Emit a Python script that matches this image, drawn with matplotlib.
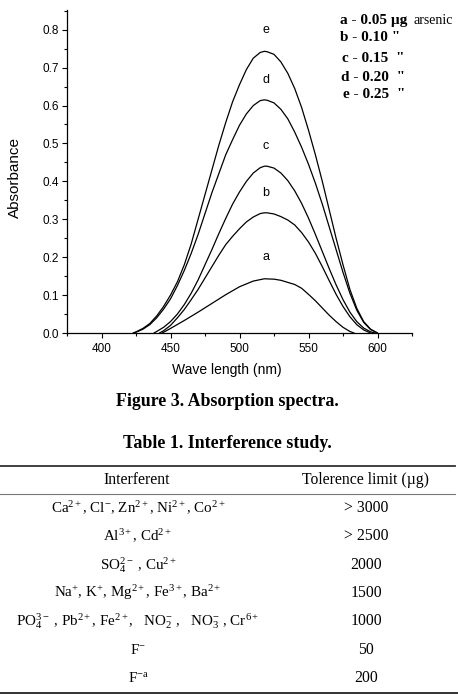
import matplotlib
matplotlib.use("Agg")
import matplotlib.pyplot as plt
from matplotlib.lines import Line2D
from matplotlib.ticker import MultipleLocator

plt.rcParams['mathtext.fontset'] = 'custom'
plt.rcParams['mathtext.rm'] = 'Liberation Serif'
plt.rcParams['mathtext.it'] = 'Liberation Serif:italic'
plt.rcParams['mathtext.bf'] = 'Liberation Serif:bold'

# ---------------- data ----------------
wl_a = [444, 450, 460, 470, 480, 490, 500, 510, 518, 525, 530, 540, 545, 550, 555, 560, 565, 570, 575, 580, 583]
abs_a = [0, 0.012, 0.033, 0.055, 0.078, 0.101, 0.122, 0.137, 0.143, 0.142, 0.139, 0.128, 0.118, 0.102, 0.085,
         0.066, 0.047, 0.030, 0.015, 0.004, 0]

wl_b = [442, 445, 450, 455, 460, 465, 470, 475, 480, 485, 490, 495, 500, 505, 510, 515, 518, 520, 525, 530,
        535, 540, 545, 550, 555, 560, 565, 570, 575, 580, 585, 590, 595]
abs_b = [0, 0.006, 0.02, 0.04, 0.062, 0.088, 0.115, 0.145, 0.175, 0.205, 0.233, 0.255, 0.275, 0.293, 0.306,
         0.315, 0.317, 0.317, 0.314, 0.307, 0.298, 0.285, 0.265, 0.24, 0.21, 0.175, 0.138, 0.102, 0.07, 0.043,
         0.022, 0.008, 0]

wl_c = [438, 440, 445, 450, 455, 460, 465, 470, 475, 480, 485, 490, 495, 500, 505, 510, 515, 518, 520, 525,
        530, 535, 540, 545, 550, 555, 560, 565, 570, 575, 580, 585, 590, 595, 598]
abs_c = [0, 0.004, 0.015, 0.03, 0.05, 0.075, 0.105, 0.14, 0.18, 0.22, 0.262, 0.302, 0.34, 0.372, 0.40, 0.422,
         0.436, 0.44, 0.44, 0.435, 0.422, 0.402, 0.375, 0.342, 0.303, 0.26, 0.215, 0.17, 0.127, 0.088, 0.055,
         0.03, 0.013, 0.003, 0]

wl_d = [423, 425, 430, 435, 440, 445, 450, 455, 460, 465, 470, 475, 480, 485, 490, 495, 500, 505, 510, 515,
        518, 520, 525, 530, 535, 540, 545, 550, 555, 560, 565, 570, 575, 580, 585, 590, 595, 600]
abs_d = [0, 0.002, 0.01, 0.022, 0.04, 0.063, 0.09, 0.125, 0.165, 0.21, 0.26, 0.315, 0.37, 0.42, 0.47, 0.51,
         0.548, 0.578, 0.60, 0.613, 0.615, 0.614, 0.607, 0.59, 0.565, 0.53, 0.49, 0.445, 0.395, 0.34, 0.28,
         0.22, 0.16, 0.105, 0.06, 0.028, 0.009, 0]

wl_e = [423, 425, 430, 435, 440, 445, 450, 455, 460, 465, 470, 475, 480, 485, 490, 495, 500, 505, 510, 515,
        518, 520, 525, 530, 535, 540, 545, 550, 555, 560, 565, 570, 575, 580, 585, 590, 595, 600]
abs_e = [0, 0.003, 0.012, 0.025, 0.045, 0.07, 0.10, 0.135, 0.18, 0.235, 0.30, 0.365, 0.43, 0.495, 0.555, 0.61,
         0.655, 0.695, 0.725, 0.74, 0.743, 0.742, 0.735, 0.715, 0.685, 0.645, 0.595, 0.535, 0.47, 0.40, 0.325,
         0.25, 0.18, 0.115, 0.065, 0.03, 0.01, 0]

curve_labels = ['a', 'b', 'c', 'd', 'e']
label_y = [0.200, 0.370, 0.492, 0.668, 0.798]
label_x = 519

legend_bold = ['a - 0.05 µg', 'b - 0.10 "', 'c - 0.15  "', 'd - 0.20  "', 'e - 0.25  "']

x_ticks = [400, 450, 500, 550, 600]
y_ticks = [0.0, 0.1, 0.2, 0.3, 0.4, 0.5, 0.6, 0.7, 0.8]

interferents = [
    r'Ca$^{2+}$, Cl$^{-}$, Zn$^{2+}$, Ni$^{2+}$, Co$^{2+}$',
    r'Al$^{3+}$, Cd$^{2+}$',
    r'SO$_4^{2-}$ , Cu$^{2+}$',
    r'Na$^{+}$, K$^{+}$, Mg$^{2+}$, Fe$^{3+}$, Ba$^{2+}$',
    r'PO$_4^{3-}$ , Pb$^{2+}$, Fe$^{2+}$,   NO$_2^{-}$ ,   NO$_3^{-}$ , Cr$^{6+}$',
    r'F$^{-}$',
    r'F$^{-\mathrm{a}}$',
]
tolerance = ['> 3000', '> 2500', '2000', '1500', '1000', '50', '200']

# ---------------- figure ----------------
W, H = 458, 694
fig = plt.figure(figsize=(W / 100, H / 100), dpi=100)

def fx(px):
    return px / W

def fy(py):
    return 1 - py / H

ax = fig.add_axes([fx(67), fy(333), (412 - 67) / W, (333 - 10) / H])
for wl, ab in [(wl_a, abs_a), (wl_b, abs_b), (wl_c, abs_c), (wl_d, abs_d), (wl_e, abs_e)]:
    ax.plot(wl, ab, color='black', lw=0.9, solid_capstyle='round')

ax.set_xlim(375, 625)
ax.set_ylim(0, 0.852)
ax.spines['top'].set_visible(False)
ax.spines['right'].set_visible(False)
for s in ['left', 'bottom']:
    ax.spines[s].set_linewidth(0.9)
ax.set_xticks(x_ticks)
ax.set_yticks(y_ticks)
ax.set_xticklabels([str(v) for v in x_ticks])
ax.set_yticklabels([f'{v:.1f}' for v in y_ticks])
ax.xaxis.set_minor_locator(MultipleLocator(25))
ax.yaxis.set_minor_locator(MultipleLocator(0.05))
ax.tick_params(which='major', direction='out', length=3.8, width=0.8, labelsize=8.5, pad=2)
ax.tick_params(which='minor', direction='out', length=2.0, width=0.8)
ax.tick_params(axis='x', which='major', pad=3.5)
for lbl in ax.get_xticklabels() + ax.get_yticklabels():
    lbl.set_family('Liberation Sans')

ax.set_xlabel('Wave length (nm)', family='Liberation Sans', fontsize=10, va='center')
ax.xaxis.set_label_coords((227 - 67) / 345, (333 - 370) / 323)
ax.set_ylabel('Absorbance', family='Liberation Sans', fontsize=11, va='center')
ax.yaxis.set_label_coords((15 - 67) / 345, (333 - 177) / 323)

for lab, yy in zip(curve_labels, label_y):
    ax.text(label_x, yy, lab, family='Liberation Sans', fontsize=9, ha='center', va='center')

# legend text
leg_x = [340, 340, 342, 340.7, 342.7]
leg_y = [20.7, 37.3, 58.3, 77.3, 95]
for t, xx, yy in zip(legend_bold, leg_x, leg_y):
    fig.text(fx(xx), fy(yy), t, family='Liberation Serif', weight='bold', fontsize=11, ha='left', va='center')
fig.text(fx(413), fy(20.7), 'arsenic', family='Liberation Serif', fontsize=10, ha='left', va='center')

# captions
fig.text(fx(227), fy(401), 'Figure 3. Absorption spectra.', family='Liberation Serif', weight='bold',
         fontsize=12.9, ha='center', va='center')
fig.text(fx(227), fy(443.5), 'Table 1. Interference study.', family='Liberation Serif', weight='bold',
         fontsize=12.9, ha='center', va='center')

# table
fig.add_artist(Line2D([0, fx(455)], [fy(466), fy(466)], transform=fig.transFigure, color='#333333', lw=1.3))
fig.add_artist(Line2D([0, fx(455)], [fy(494), fy(494)], transform=fig.transFigure, color='#777777', lw=0.8))
fig.add_artist(Line2D([0, 1], [fy(692.5), fy(692.5)], transform=fig.transFigure, color='#222222', lw=1.3))

fig.text(fx(137), fy(480), 'Interferent', family='Liberation Serif', fontsize=11.3, ha='center', va='center')
fig.text(fx(366), fy(480), 'Tolerence limit (µg)', family='Liberation Serif', fontsize=11.3, ha='center',
         va='center')
row_y = [508.3, 536, 565, 592.7, 621, 650, 678.3]
for name, tol, yy in zip(interferents, tolerance, row_y):
    fig.text(fx(138), fy(yy), name, family='Liberation Serif', fontsize=10.8, ha='center', va='center')
    fig.text(fx(366), fy(yy), tol, family='Liberation Serif', fontsize=11.3, ha='center', va='center')

fig.savefig('out.png', dpi=100)
